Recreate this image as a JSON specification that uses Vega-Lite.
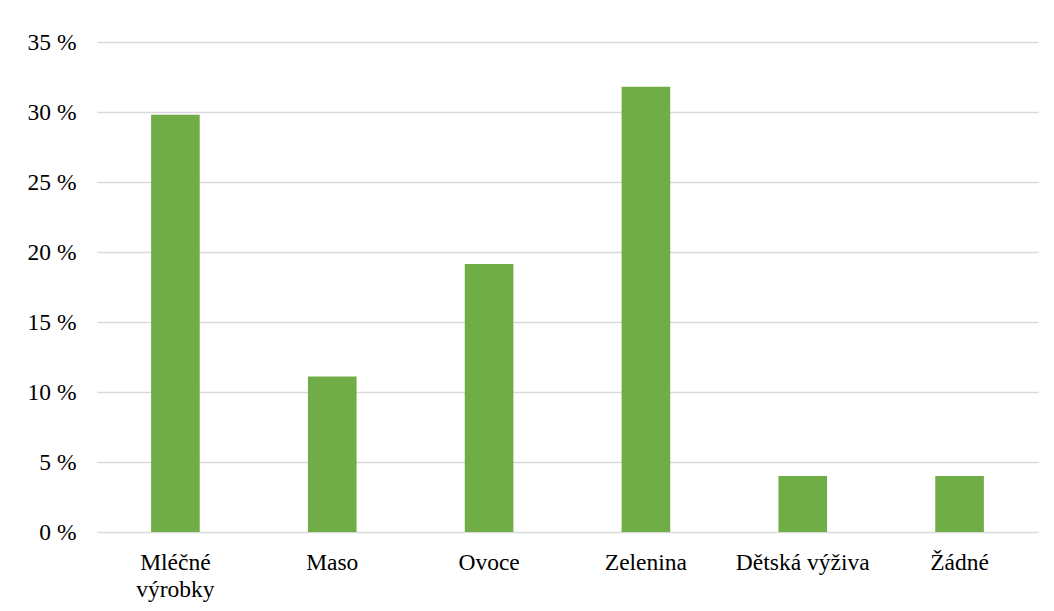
{
  "$schema": "https://vega.github.io/schema/vega-lite/v6.json",
  "width": 941,
  "height": 490,
  "autosize": {"type": "none"},
  "padding": {"left": 97, "top": 42, "right": 16, "bottom": 79},
  "background": "white",
  "config": {
    "view": {"stroke": null}
  },
  "data": {
    "values": [
      {"kategorie": "Mléčné výrobky", "podil": 29.8},
      {"kategorie": "Maso", "podil": 11.1},
      {"kategorie": "Ovoce", "podil": 19.15},
      {"kategorie": "Zelenina", "podil": 31.8},
      {"kategorie": "Dětská výživa", "podil": 4.0},
      {"kategorie": "Žádné", "podil": 4.0}
    ]
  },
  "mark": {"type": "bar", "color": "#70ad47"},
  "encoding": {
    "x": {
      "field": "kategorie",
      "type": "nominal",
      "sort": null,
      "scale": {"paddingInner": 0.69, "paddingOuter": 0.345},
      "axis": {
        "title": null,
        "labelAngle": 0,
        "domain": false,
        "ticks": false,
        "labelFont": "Liberation Serif",
        "labelFontSize": 23.5,
        "labelColor": "#000000",
        "labelPadding": 18,
        "labelBaseline": "top",
        "labelLineHeight": 27,
        "labelExpr": "datum.value == 'Mléčné výrobky' ? ['Mléčné', 'výrobky'] : datum.value"
      }
    },
    "y": {
      "field": "podil",
      "type": "quantitative",
      "scale": {"domain": [0, 35], "nice": false},
      "axis": {
        "title": null,
        "values": [0, 5, 10, 15, 20, 25, 30, 35],
        "labelExpr": "datum.value + ' %'",
        "domain": false,
        "ticks": false,
        "labelFont": "Liberation Serif",
        "labelFontSize": 23.5,
        "labelColor": "#000000",
        "labelPadding": 21,
        "gridColor": "#d9d9d9",
        "gridWidth": 1.5
      }
    }
  }
}
